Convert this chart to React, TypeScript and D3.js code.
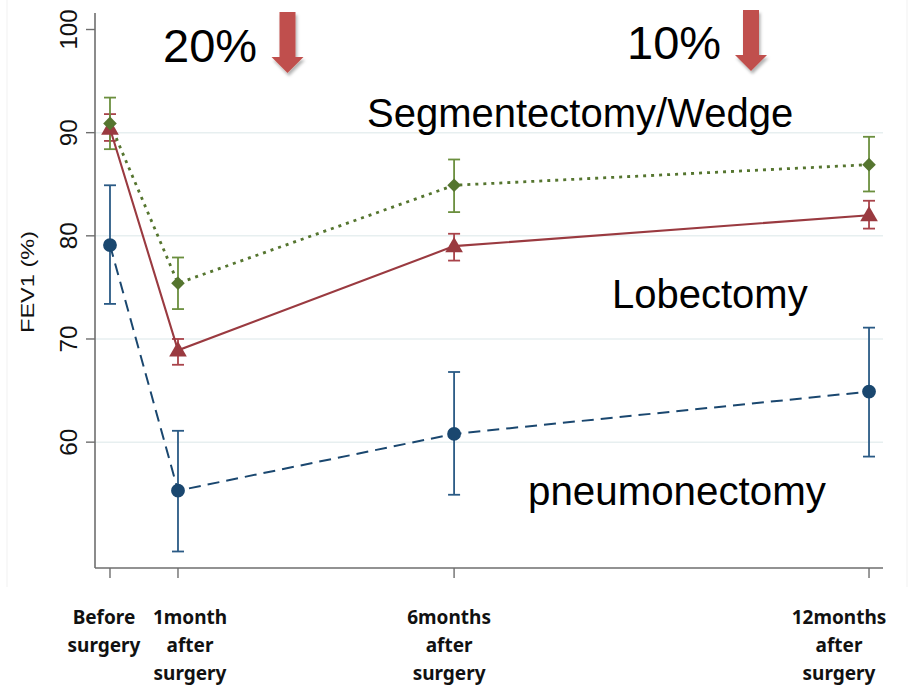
import React from "react";
import * as d3 from "d3";

// Time points along the x axis (position on the timeline) and their labels
const timepoints = [0, 1.075, 5.44, 12];
const timeLabels = [
  ["Before", "surgery"],
  ["1month", "after", "surgery"],
  ["6months", "after", "surgery"],
  ["12months", "after", "surgery"],
];
const labelShift = [-6, 12, -5, -30];

const yTicks = [60, 70, 80, 90, 100];
const gridValues = [60, 70, 80, 90];

// FEV1 (%) means with confidence limits
const segMean = [90.9, 75.4, 84.9, 86.9];
const segLow = [88.4, 72.9, 82.3, 84.3];
const segHigh = [93.4, 77.9, 87.4, 89.6];

const lobMean = [90.4, 68.9, 79.0, 82.0];
const lobLow = [89.2, 67.5, 77.6, 80.7];
const lobHigh = [91.8, 70.0, 80.2, 83.4];

const pneMean = [79.1, 55.3, 60.8, 64.9];
const pneLow = [73.4, 49.4, 54.9, 58.6];
const pneHigh = [84.9, 61.1, 66.8, 71.1];

const W = 920;
const H = 686;
const left = 95;
const right = 883;
const top = 13;
const bottom = 568;

const GREEN = "#55752f";
const GREEN_BAR = "#6b8f3e";
const RED = "#9a3a40";
const RED_BAR = "#a9434a";
const BLUE = "#1a476f";
const BLUE_BAR = "#2a5a85";

type Series = {
  name: string;
  mean: number[];
  low: number[];
  high: number[];
  color: string;
  barColor: string;
  dash: string;
  width: number;
  marker: "diamond" | "triangle" | "circle";
};

const series: Series[] = [
  { name: "pneumonectomy", mean: pneMean, low: pneLow, high: pneHigh, color: BLUE, barColor: BLUE_BAR, dash: "12 7", width: 2, marker: "circle" },
  { name: "lobectomy", mean: lobMean, low: lobLow, high: lobHigh, color: RED, barColor: RED_BAR, dash: "none", width: 2.1, marker: "triangle" },
  { name: "segmentectomy", mean: segMean, low: segLow, high: segHigh, color: GREEN, barColor: GREEN_BAR, dash: "3 5", width: 2.8, marker: "diamond" },
];

export default function App() {
  const x = d3.scaleLinear().domain([-0.237, 12.221]).range([left, right]);
  const y = d3.scaleLinear().domain([47.8, 101.6]).range([bottom, top]);

  const symbolFor = (m: Series["marker"]) => {
    if (m === "circle") return d3.symbol().type(d3.symbolCircle).size(150)();
    if (m === "triangle") return d3.symbol().type(d3.symbolTriangle).size(135)();
    // square turned 45 degrees, as a rhombus of equal diagonals
    return d3.symbol().type(d3.symbolSquare).size(92)();
  };

  const line = d3
    .line<number>()
    .x((_, i) => x(timepoints[i]))
    .y((d) => y(d));

  const arrow = (cx: number, y0: number) => {
    const shaftHalf = 8;
    const headHalf = 16;
    const shaftEnd = y0 + 45;
    const tip = y0 + 61;
    return `M${cx - shaftHalf},${y0} L${cx + shaftHalf},${y0} L${cx + shaftHalf},${shaftEnd} L${cx + headHalf},${shaftEnd} L${cx},${tip} L${cx - headHalf},${shaftEnd} L${cx - shaftHalf},${shaftEnd} Z`;
  };

  return (
    <div style={{ position: "absolute", left: 0, top: 0 }}>
      <svg width={W} height={H} viewBox={`0 0 ${W} ${H}`} style={{ display: "block", background: "#fff" }}>
        <defs>
          <filter id="arrowShadow" x="-50%" y="-20%" width="200%" height="150%">
            <feDropShadow dx="1.5" dy="3" stdDeviation="1.8" floodColor="#000" floodOpacity="0.3" />
          </filter>
        </defs>

        {/* faint outer frame of the graph region */}
        <line x1={7} x2={7} y1={0} y2={587} stroke="#f1f1f1" strokeWidth={1} />
        <line x1={907} x2={907} y1={0} y2={587} stroke="#f1f1f1" strokeWidth={1} />

        {/* gridlines */}
        {gridValues.map((v) => (
          <line key={v} x1={left} x2={right} y1={y(v)} y2={y(v)} stroke="#e7eff0" strokeWidth={1.5} />
        ))}

        {/* axes */}
        <line x1={left} x2={left} y1={top} y2={bottom} stroke="#6e6e6e" strokeWidth={1.6} />
        <line x1={left} x2={right} y1={bottom} y2={bottom} stroke="#6e6e6e" strokeWidth={1.6} />
        {yTicks.map((v) => (
          <g key={v}>
            <line x1={left - 9} x2={left} y1={y(v)} y2={y(v)} stroke="#6e6e6e" strokeWidth={1.4} />
            <text
              transform={`translate(${77},${y(v)}) rotate(-90)`}
              textAnchor="middle"
              fontFamily="Liberation Sans, Arial, sans-serif"
              fontSize={23}
              textLength={v === 100 ? 40 : 27}
              lengthAdjust="spacingAndGlyphs"
              fill="#111"
            >
              {v}
            </text>
          </g>
        ))}
        <text
          transform={`translate(${34},${282}) rotate(-90)`}
          textAnchor="middle"
          fontFamily="Liberation Sans, Arial, sans-serif"
          fontSize={18}
          textLength={102}
          lengthAdjust="spacingAndGlyphs"
          fill="#111"
        >
          FEV1 (%)
        </text>

        {timepoints.map((t, i) => (
          <g key={i}>
            <line x1={x(t)} x2={x(t)} y1={bottom} y2={bottom + 10} stroke="#6e6e6e" strokeWidth={1.4} />
            <text
              y={624}
              textAnchor="middle"
              fontFamily="Noto Sans, sans-serif"
              fontWeight={700}
              fontSize={19}
              fill="#111"
            >
              {timeLabels[i].map((s, j) => (
                <tspan key={j} x={x(t) + labelShift[i]} dy={j === 0 ? 0 : 28}>
                  {s}
                </tspan>
              ))}
            </text>
          </g>
        ))}

        {/* error bars */}
        {series.map((s) =>
          s.mean.map((_, i) => {
            const cx = x(timepoints[i]);
            return (
              <g key={`${s.name}-eb-${i}`} stroke={s.barColor} strokeWidth={1.8}>
                <line x1={cx} x2={cx} y1={y(s.low[i])} y2={y(s.high[i])} />
                <line x1={cx - 6} x2={cx + 6} y1={y(s.low[i])} y2={y(s.low[i])} />
                <line x1={cx - 6} x2={cx + 6} y1={y(s.high[i])} y2={y(s.high[i])} />
              </g>
            );
          })
        )}

        {/* connecting lines */}
        {series.map((s) => (
          <path
            key={`${s.name}-line`}
            d={line(s.mean) ?? ""}
            fill="none"
            stroke={s.color}
            strokeWidth={s.width}
            strokeDasharray={s.dash}
          />
        ))}

        {/* markers */}
        {series.map((s) =>
          s.mean.map((v, i) => (
            <path
              key={`${s.name}-m-${i}`}
              d={symbolFor(s.marker) ?? ""}
              transform={`translate(${x(timepoints[i])},${y(v) + (s.marker === "triangle" ? 1 : 0)})${s.marker === "diamond" ? " rotate(45)" : ""}`}
              fill={s.color}
            />
          ))
        )}

        {/* group labels */}
        <g fontFamily="Liberation Sans, Arial, sans-serif" fill="#000">
          <text x={367} y={127} fontSize={40}>Segmentectomy/Wedge</text>
          <text x={612} y={308} fontSize={40}>Lobectomy</text>
          <text x={528} y={505} fontSize={40.3}>pneumonectomy</text>
          <text x={163} y={62} fontSize={47}>20%</text>
          <text x={627} y={59} fontSize={47}>10%</text>
        </g>

        {/* decline arrows */}
        <path d={arrow(287.5, 12)} fill="#c0504d" filter="url(#arrowShadow)" />
        <path d={arrow(751, 10)} fill="#c0504d" filter="url(#arrowShadow)" />
      </svg>
    </div>
  );
}
